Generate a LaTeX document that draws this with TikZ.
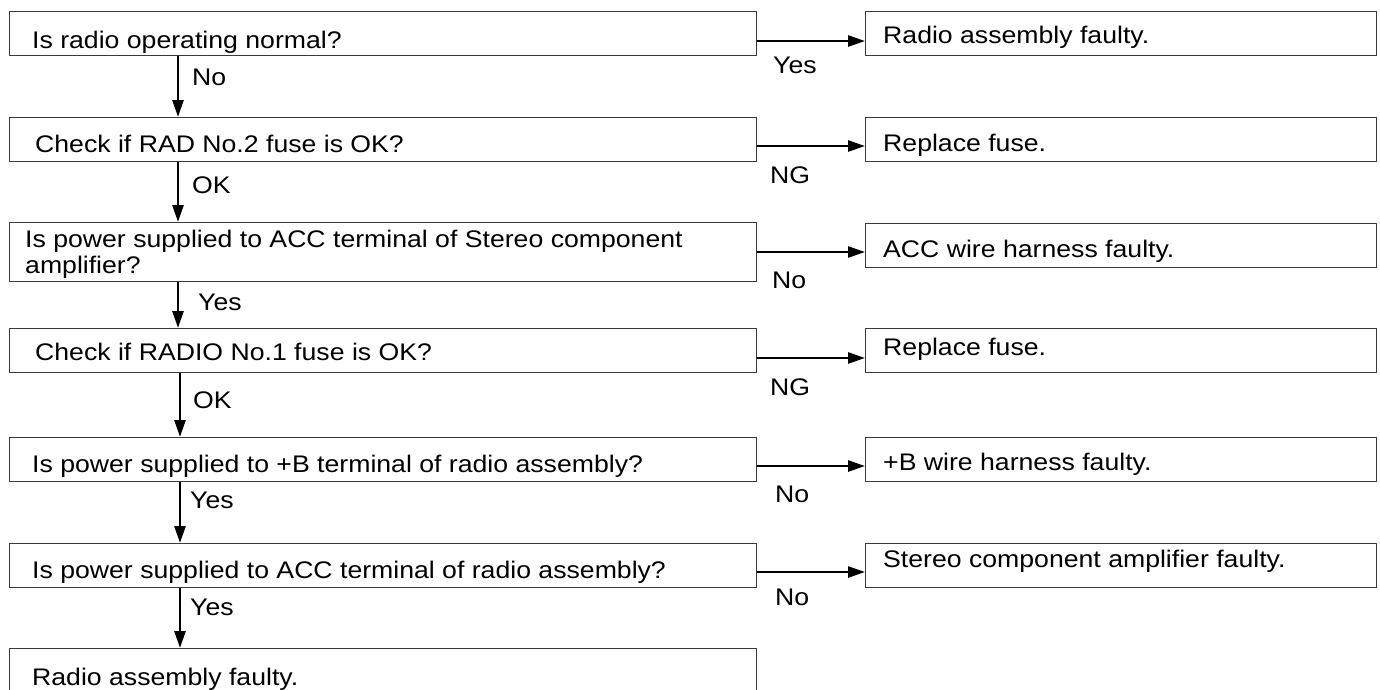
\documentclass[tikz,border=0pt]{standalone}
\usepackage{fontspec}
\setmainfont[FakeStretch=1.11]{Liberation Sans}
\usetikzlibrary{arrows.meta}
\definecolor{boxgray}{HTML}{3A3A3A}
\begin{document}
\begin{tikzpicture}[x=1pt,y=-1pt,
  box/.style={draw=boxgray,line width=1.3pt,rectangle,anchor=north west,inner sep=0pt},
  lbox/.style={box,minimum width=747pt,minimum height=44pt},
  rbox/.style={box,minimum width=511pt,minimum height=44pt},
  txt/.style={anchor=base west,inner sep=0pt,font=\fontsize{24}{26}\selectfont},
  arr/.style={line width=2.7pt,-{Triangle[length=17pt,width=11pt]}}]
\useasboundingbox (0,0) rectangle (1380,689);
\clip (0,0) rectangle (1380,689);
% left column boxes
\node[lbox] (b1) at (9,11) {};
\node[lbox] (b2) at (9,117) {};
\node[lbox,minimum height=59pt] (b3) at (9,222) {};
\node[lbox] (b4) at (9,328) {};
\node[lbox] (b5) at (9,437) {};
\node[lbox] (b6) at (9,543) {};
\node[lbox,minimum height=70pt] (b7) at (9,648) {};
% right column boxes
\node[rbox] (r1) at (865,11) {};
\node[rbox] (r2) at (865,117) {};
\node[rbox] (r3) at (865,223) {};
\node[rbox] (r4) at (865,328) {};
\node[rbox] (r5) at (865,437) {};
\node[rbox] (r6) at (865,543) {};
% left texts
\node[txt] (t1) at (32,48) {Is radio operating normal?};
\node[txt] (t2) at (35,152) {Check if RAD No.2 fuse is OK?};
\node[txt] (t3a) at (25,247) {Is power supplied to ACC terminal of Stereo component};
\node[txt] (t3b) at (25,273) {amplifier?};
\node[txt] (t4) at (35,360) {Check if RADIO No.1 fuse is OK?};
\node[txt] (t5) at (32,472) {Is power supplied to +B terminal of radio assembly?};
\node[txt] (t6) at (32,578) {Is power supplied to ACC terminal of radio assembly?};
\node[txt] (t7) at (32,685) {Radio assembly faulty.};
% right texts
\node[txt] (s1) at (883,43) {Radio assembly faulty.};
\node[txt] (s2) at (883,151) {Replace fuse.};
\node[txt] (s3) at (883,257) {ACC wire harness faulty.};
\node[txt] (s4) at (883,355) {Replace fuse.};
\node[txt] (s5) at (883,470) {+B wire harness faulty.};
\node[txt] (s6) at (883,567) {Stereo component amplifier faulty.};
% vertical arrow columns
\coordinate (va) at (178,0);
\coordinate (vb) at (180,0);
\draw[arr] (va |- b1.south) -- (va |- b2.north);
\draw[arr] (va |- b2.south) -- (va |- b3.north);
\draw[arr] (va |- b3.south) -- (va |- b4.north);
\draw[arr] (vb |- b4.south) -- (vb |- b5.north);
\draw[arr] (vb |- b5.south) -- (vb |- b6.north);
\draw[arr] (vb |- b6.south) -- (vb |- b7.north);
% vertical labels
\node[txt] (l1) at (192,85) {No};
\node[txt] (l2) at (192,193) {OK};
\node[txt] (l3) at (198,310) {Yes};
\node[txt] (l4) at (193,408) {OK};
\node[txt] (l5) at (190,508) {Yes};
\node[txt] (l6) at (190,615) {Yes};
% horizontal arrows
\coordinate (h1) at (0,41);
\coordinate (h2) at (0,146);
\coordinate (h3) at (0,252);
\coordinate (h4) at (0,358);
\coordinate (h5) at (0,466);
\coordinate (h6) at (0,572);
\draw[arr] (b1.east |- h1) -- (r1.west |- h1);
\draw[arr] (b2.east |- h2) -- (r2.west |- h2);
\draw[arr] (b3.east |- h3) -- (r3.west |- h3);
\draw[arr] (b4.east |- h4) -- (r4.west |- h4);
\draw[arr] (b5.east |- h5) -- (r5.west |- h5);
\draw[arr] (b6.east |- h6) -- (r6.west |- h6);
% horizontal labels
\node[txt] (m1) at (773,73) {Yes};
\node[txt] (m2) at (770,183) {NG};
\node[txt] (m3) at (772,288) {No};
\node[txt] (m4) at (770,395) {NG};
\node[txt] (m5) at (775,502) {No};
\node[txt] (m6) at (775,605) {No};
\end{tikzpicture}
\end{document}
